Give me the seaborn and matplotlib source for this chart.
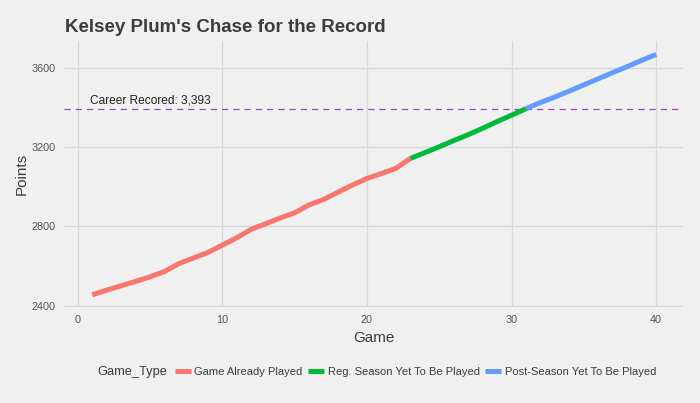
import pandas as pd
import matplotlib.pyplot as plt
import seaborn as sns

# ================================
# DATA
# ================================
games_played = list(range(1, 24))
points_played = [2455, 2478, 2500, 2522, 2545, 2572, 2612, 2640, 2668, 2705,
                 2742, 2785, 2813, 2842, 2868, 2908, 2935, 2972, 3008, 3041,
                 3066, 3092, 3142]

games_reg = list(range(23, 32))
points_reg = [3142, 3171, 3201, 3232, 3262, 3294, 3328, 3360, 3393]

games_post = list(range(31, 41))
points_post = [3393, 3424, 3452, 3482, 3513, 3544, 3575, 3605, 3637, 3666]

game_types = ["Game Already Played", "Reg. Season Yet To Be Played",
              "Post-Season Yet To Be Played"]
type_colors = ["#F8766D", "#00BA38", "#619CFF"]

record = 3393

df = pd.concat([
    pd.DataFrame({"Game": games_played, "Points": points_played, "Game_Type": game_types[0]}),
    pd.DataFrame({"Game": games_reg, "Points": points_reg, "Game_Type": game_types[1]}),
    pd.DataFrame({"Game": games_post, "Points": points_post, "Game_Type": game_types[2]}),
], ignore_index=True)

# ================================
# STYLE
# ================================
sns.set_style("whitegrid")
plt.rcParams["font.family"] = ["Liberation Sans", "DejaVu Sans"]
bg = "#F0F0F0"

fig = plt.figure(figsize=(7, 4.03), dpi=100, facecolor=bg)
ax = fig.add_axes([64 / 700, 1 - 307 / 403, (683 - 64) / 700, (307 - 41) / 403])
ax.set_facecolor(bg)

sns.lineplot(data=df, x="Game", y="Points", hue="Game_Type", hue_order=game_types,
             palette=type_colors, linewidth=3.6, estimator=None, ax=ax,
             solid_capstyle="butt")

ax.axhline(record, color="#A040C8", linestyle=(0, (5, 4)), linewidth=0.9, zorder=1)
ax.text(5, record + 12, "Career Recored: 3,393", ha="center", va="bottom",
        fontsize=8.6, color="#222222")

ax.set_xlim(-0.95, 41.85)
ax.set_ylim(2393, 3734)
ax.set_xticks([0, 10, 20, 30, 40])
ax.set_yticks([2400, 2800, 3200, 3600])

ax.grid(True, color="#D6D6D6", linewidth=0.9)
ax.set_axisbelow(True)
for s in ax.spines.values():
    s.set_visible(False)
ax.tick_params(axis="both", length=0, labelsize=7.8, labelcolor="#555555")
ax.tick_params(axis="x", pad=6)
ax.tick_params(axis="y", pad=6)

ax.set_xlabel("Game", fontsize=11, color="#3C3C3C", labelpad=4)
ax.set_ylabel("Points", fontsize=11, color="#3C3C3C", labelpad=2)

fig.text(65 / 700, 1 - 31.7 / 403, "Kelsey Plum's Chase for the Record",
         fontsize=13.5, fontweight="bold", color="#3C3C3C", ha="left", va="baseline")

# ================================
# LEGEND (bottom, title inline)
# ================================
ax.get_legend().remove()
handles, labels = ax.get_legend_handles_labels()
fig.text(97 / 700, 1 - 372 / 403, "Game_Type", fontsize=9.3, color="#3C3C3C",
         ha="left", va="center")
leg = fig.legend(handles, labels, loc="center left", bbox_to_anchor=(175 / 700, 1 - 372 / 403),
                 ncol=3, frameon=False, fontsize=8.0, handlelength=1.4,
                 handletextpad=0.35, columnspacing=0.5, borderpad=0, borderaxespad=0)
for t in leg.get_texts():
    t.set_color("#3C3C3C")
for h in leg.legend_handles:
    h.set_linewidth(3.6)

fig.savefig("out.png", dpi=100, facecolor=bg)
